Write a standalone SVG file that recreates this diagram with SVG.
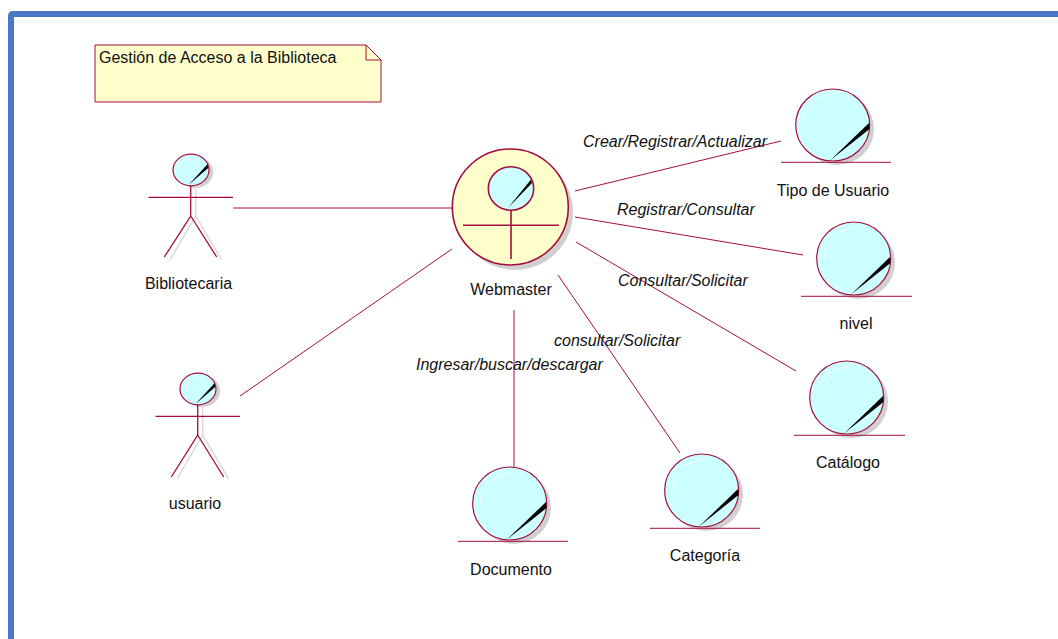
<svg xmlns="http://www.w3.org/2000/svg" width="1058" height="639" viewBox="0 0 1058 639">
<style>
.l{stroke:#a50d3e;fill:none;stroke-width:1}
.a{stroke:#a50d3e;fill:none;stroke-width:1.300}
.s{stroke:#dcdcdc;fill:none;stroke-width:1.500}
.c{fill:#ccffff;stroke:#a50d3e;stroke-width:1.200}
.sh{fill:#d0d0d0}
.g{fill:none;stroke:#f4ffff;stroke-width:1}
.t{font-family:"Liberation Sans",Arial,sans-serif;font-size:16px;fill:#111;text-anchor:middle}
.i{font-family:"Liberation Sans",Arial,sans-serif;font-size:16px;font-style:italic;fill:#111}
</style>
<rect width="1058" height="639" fill="#fff"/>
<path d="M11 639V16Q11 14 13 14H1058" fill="none" stroke="#4a76c6" stroke-width="6"/>
<g id="note">
<path d="M95 45H366L381 60V102H95Z" fill="#ffffcc" stroke="#a50d3e" stroke-width="1"/>
<path d="M366 45V60H381" fill="none" stroke="#a50d3e"/>
<text x="99" y="63" font-family="'Liberation Sans',Arial,sans-serif" font-size="16" fill="#111">Gestión de Acceso a la Biblioteca</text>
</g>
<g id="connectors" class="l">
<path d="M233 208H452"/>
<path d="M240 396L452 249"/>
<path d="M575 191L781 141"/>
<path d="M575 217L803 255"/>
<path d="M576 242L796 371"/>
<path d="M558 275L680 453"/>
<path d="M514 310V467"/>
</g>
<g id="labels">
<text class="i" x="583" y="147">Crear/Registrar/Actualizar</text>
<text class="i" x="617" y="215">Registrar/Consultar</text>
<text class="i" x="618" y="286">Consultar/Solicitar</text>
<text class="i" x="554" y="346">consultar/Solicitar</text>
<text class="i" x="416" y="370">Ingresar/buscar/descargar</text>
</g>
<g id="webmaster">
<circle class="sh" cx="515" cy="212" r="58"/>
<circle cx="510.300" cy="207" r="58" fill="#ffffcc" stroke="#a50d3e" stroke-width="1.600"/>
<ellipse class="c" cx="511" cy="188.500" rx="22.700" ry="21.700" style="stroke-width:1.600"/>
<path d="M508 208L531 179.500L532 183Z" fill="#000"/>
<path d="M497 187Q498 174 511 169" class="g"/>
<path d="M511 210V259M463 225.300H559" class="a" style="stroke-width:1.600"/>
<text class="t" x="511" y="295">Webmaster</text>
</g>
<g id="bibliotecaria">
<ellipse class="sh" cx="195.200" cy="172" rx="18" ry="16"/>
<path class="s" d="M195.700 186V216L170 260M195.700 216L221.700 260"/>
<ellipse class="c" cx="191" cy="170" rx="18" ry="15.800"/>
<path d="M188.500 185L207.700 164L208.200 168Z" fill="#000"/>
<path d="M178.700 169Q179.700 160 189.700 158" class="g"/>
<path class="a" d="M190.700 186V216L164.300 257M190.700 216L216.700 257M148.500 197.300H233"/>
<text class="t" x="188.500" y="289">Bibliotecaria</text>
</g>
<g id="usuario">
<ellipse class="sh" cx="202.200" cy="391" rx="18" ry="16"/>
<path class="s" d="M202.700 405V435L177 479M202.700 435L228.700 479"/>
<ellipse class="c" cx="198" cy="389" rx="18" ry="15.800"/>
<path d="M195.500 404L214.700 383L215.200 387Z" fill="#000"/>
<path d="M185.700 388Q186.700 379 196.700 377" class="g"/>
<path class="a" d="M197.700 405V435L171.300 477M197.700 435L223.700 477M155.500 416.300H240"/>
<text class="t" x="195" y="509">usuario</text>
</g>
<g id="tipo">
<ellipse class="sh" cx="837" cy="129" rx="37" ry="36"/>
<ellipse class="c" cx="832.700" cy="125" rx="37" ry="36"/>
<path d="M830 160.500L869 123L869.500 129Z" fill="#000"/>
<path d="M803 125Q805 97 833 94" class="g"/>
<path class="l" d="M781 162.300H891"/>
<text class="t" x="833" y="196">Tipo de Usuario</text>
</g>
<g id="nivel">
<ellipse class="sh" cx="858" cy="262.500" rx="37" ry="36.500"/>
<ellipse class="c" cx="853.700" cy="258.500" rx="37" ry="36.500"/>
<path d="M851 294.500L890 257L890.500 263Z" fill="#000"/>
<path d="M824 259Q826 231 854 228" class="g"/>
<path class="l" d="M801 296.300H912"/>
<text class="t" x="856" y="329">nivel</text>
</g>
<g id="catalogo">
<ellipse class="sh" cx="851" cy="401.500" rx="37" ry="36.500"/>
<ellipse class="c" cx="846.700" cy="397.500" rx="37" ry="36.500"/>
<path d="M844 433.500L883 396L883.500 402Z" fill="#000"/>
<path d="M817 398Q819 370 847 367" class="g"/>
<path class="l" d="M794 435.300H905"/>
<text class="t" x="848" y="468">Catálogo</text>
</g>
<g id="documento">
<ellipse class="sh" cx="514" cy="507.500" rx="37" ry="36.500"/>
<ellipse class="c" cx="509.700" cy="503.500" rx="37" ry="36.500"/>
<path d="M507 539.500L546 502L546.500 508Z" fill="#000"/>
<path d="M480 504Q482 476 510 473" class="g"/>
<path class="l" d="M458 541.300H568"/>
<text class="t" x="511" y="575">Documento</text>
</g>
<g id="categoria">
<ellipse class="sh" cx="706" cy="494.500" rx="37" ry="36.500"/>
<ellipse class="c" cx="701.700" cy="490.500" rx="37" ry="36.500"/>
<path d="M699 526.500L738 489L738.500 495Z" fill="#000"/>
<path d="M672 491Q674 463 702 460" class="g"/>
<path class="l" d="M650 528.300H760"/>
<text class="t" x="705" y="561">Categoría</text>
</g>
</svg>
